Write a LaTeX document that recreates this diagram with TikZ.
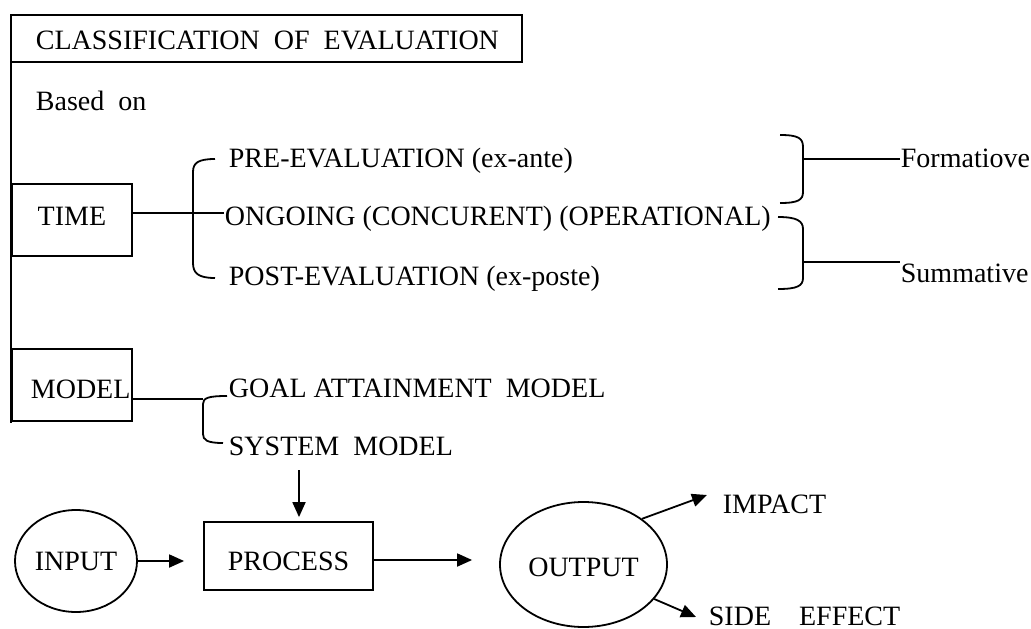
\documentclass[tikz,border=0pt]{standalone}
\usepackage{fontspec}
\setmainfont{Liberation Serif}
\usetikzlibrary{arrows.meta,shapes.geometric}
\begin{document}
\begin{tikzpicture}[x=1pt,y=-1pt,line width=1.8pt,
  txt/.style={inner sep=0pt,anchor=base west,font=\fontsize{28}{32}\selectfont},
  boxnode/.style={draw,rectangle,inner sep=0pt,anchor=north west,font=\fontsize{28}{32}\selectfont},
  ell/.style={draw,ellipse,inner sep=0pt,font=\fontsize{28}{32}\selectfont},
  arr/.style={-{Triangle[length=15pt,width=13pt]}}]
\useasboundingbox (0,0) rectangle (1031,629);
% title and spine
\draw (11,15) rectangle (522,62);
\node[txt] (title) at (35,49) {CLASSIFICATION\ \ OF\ \ EVALUATION};
\draw (11,15) -- (11,423);
\node[txt] (based) at (35,110) {Based\ \ on};
% TIME
\node[boxnode,minimum width=120pt,minimum height=72pt,text depth=8pt] (timebox) at (11,183) {TIME};
\node[txt] (pre) at (228,167) {PRE-EVALUATION (ex-ante)};
\node[txt] (ongoing) at (224,225) {ONGOING (CONCURENT) (OPERATIONAL)};
\node[txt] (post) at (228,285) {POST-EVALUATION (ex-poste)};
\coordinate (trow) at (0,213);
\draw (timebox.east |- trow) -- (trow -| ongoing.west);
\coordinate (lbT) at (215,159);
\coordinate (lbB) at (215,278);
\draw (lbT) .. controls (198,159) and (193,163) .. (193,172) -- (193,263) .. controls (193,273) and (198,278) .. (lbB);
% right braces
\node[txt] (form) at (900,167) {Formatiove};
\node[txt] (summ) at (900,282) {Summative};
\draw (780,135) .. controls (798,135) and (803,138) .. (803,147) -- (803,192) .. controls (803,200) and (798,203) .. (780,203);
\coordinate (b1) at (803,159);
\draw (b1) -- (b1 -| form.west);
\draw (778,217) .. controls (797,217) and (803,221) .. (803,229) -- (803,278) .. controls (803,286) and (797,289) .. (778,289);
\coordinate (b2) at (803,262);
\draw (b2) -- (b2 -| summ.west);
% MODEL
\node[boxnode,minimum width=120pt,minimum height=72pt] (modelbox) at (11,348) {};
\node[txt] (model) at (30,398) {MODEL};
\node[txt] (goal) at (228,397) {GOAL ATTAINMENT\ \ MODEL};
\node[txt] (system) at (228,455) {SYSTEM\ \ MODEL};
\coordinate (mrow) at (0,399);
\coordinate (mbr) at (203,399);
\draw (modelbox.east |- mrow) -- (mbr);
\draw (227,396) .. controls (208,396) and (203,398) .. (203,404) -- (203,434) .. controls (203,440) and (207,443) .. (223,443);
% flow
\node[ell,minimum width=122pt,minimum height=102pt] (input) at (76,561) {INPUT};
\node[draw,rectangle,inner sep=0pt,minimum width=169pt,minimum height=68pt,text height=30pt,font=\fontsize{28}{32}\selectfont] (process) at (288.5,556) {PROCESS};
\node[ell,minimum width=167pt,minimum height=125pt,text height=24pt] (output) at (583.5,564.5) {OUTPUT};
\node[txt] (impact) at (722,513) {IMPACT};
\node[txt] (side) at (708,625) {SIDE\ \ \ \ EFFECT};
\coordinate (ds) at (299,470);
\draw[arr,shorten >=4pt] (ds) -- (ds |- process.north);
\draw[arr,shorten >=19pt] (input.east) -- (input.east -| process.west);
\coordinate (prow) at (0,560);
\draw[arr,shorten >=27pt] (process.east |- prow) -- (prow -| output.west);
\coordinate (itip) at (707,495);
\coordinate (stip) at (696,617);
\draw[arr] (output.38) -- (itip);
\draw[arr] (output.-26) -- (stip);
\end{tikzpicture}
\end{document}
